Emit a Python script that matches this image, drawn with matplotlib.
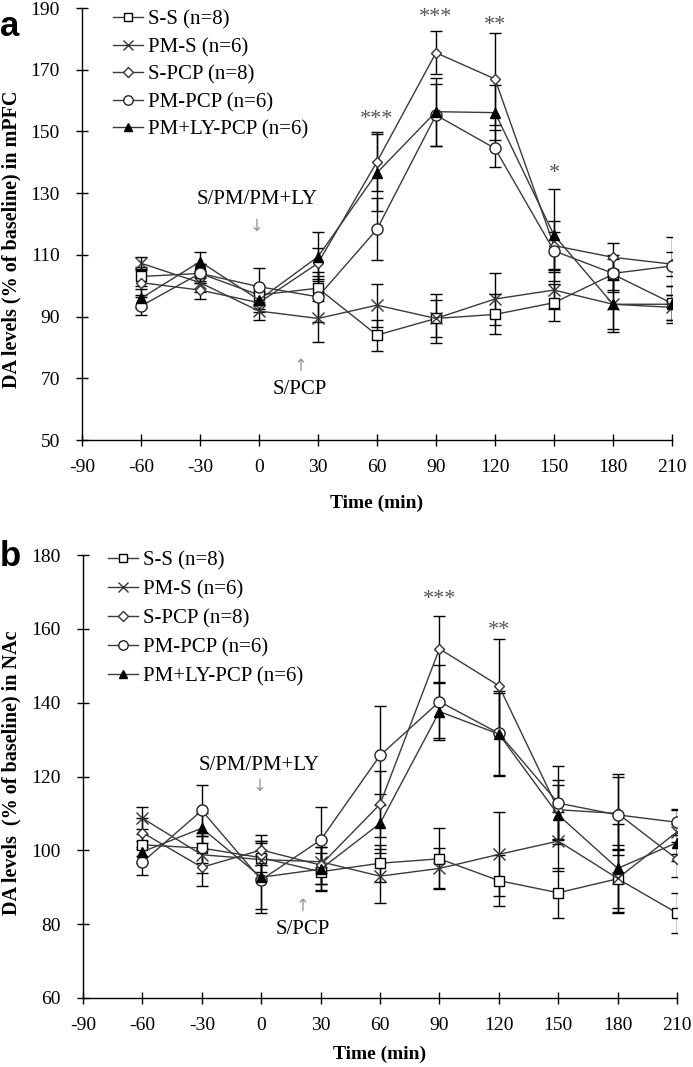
import matplotlib
matplotlib.use("Agg")
import matplotlib.pyplot as plt
from matplotlib.lines import Line2D

plt.rcParams['font.family'] = ['Liberation Serif', 'DejaVu Serif']
plt.rcParams['axes.unicode_minus'] = False

time = [-60, -30, 0, 30, 60, 90, 120, 150, 180, 210]
labels = ["S-S (n=8)", "PM-S (n=6)", "S-PCP (n=8)", "PM-PCP (n=6)", "PM+LY-PCP (n=6)"]

# Panel a: mPFC
a_ss = [103, 104, 97, 99.2, 84, 89.4, 90.7, 94.5, 103.7, 94.3]
a_pms = [107.3, 101, 91.8, 89.4, 93.7, 89.4, 95.7, 98.6, 94, 93]
a_spcp = [101, 98.6, 94.5, 107.3, 140.2, 175.5, 167, 113, 109.2, 107]
a_pmpcp = [93.4, 104, 99.7, 96.4, 118.3, 155.3, 144.5, 111.3, 104, 106.4]
a_lypcp = [95.9, 107.8, 95.4, 109.4, 136.6, 156.4, 156.1, 116.4, 94, 94]
a_ss_err = [3, 3, 3, 4, 5, 6, 6.5, 6, 5, 5.5]
a_pms_err = [2, 3, 3, 7.5, 7, 8, 8.5, 6, 9, 4]
a_spcp_err = [4, 3, 3, 5, 9.5, 7, 15, 8, 4.5, 4]
a_pmpcp_err = [3, 3, 6, 8, 10, 10, 6, 6, 6, 9.5]
a_lypcp_err = [3, 3, 3, 8, 12.5, 11, 9, 15, 8, 6]

# Panel b: NAc
b_ss = [101.5, 100.6, 98, 94.2, 96.5, 97.7, 91.8, 88.5, 92.3, 83]
b_pms = [108.7, 98.8, 97.5, 96.9, 93, 95.1, 98.9, 102.5, 92.4, 105]
b_spcp = [104.8, 95.4, 100.1, 96, 112.5, 154.6, 144.6, 111, 110, 97.6]
b_pmpcp = [96.8, 110.8, 92, 102.8, 125.7, 140.3, 131.7, 112.8, 109.6, 107.6]
b_lypcp = [99.6, 106, 92.7, 94.9, 107.3, 137.6, 131.5, 109.6, 95.1, 102.1]
b_ss_err = [3, 4, 4, 5, 5, 8.3, 7, 6.7, 8, 5.5]
b_pms_err = [3, 5, 5, 6, 7.3, 5.4, 11.4, 8, 9, 6]
b_spcp_err = [4, 5, 4, 5, 9, 9, 12.7, 8, 10, 4.7]
b_pmpcp_err = [3.5, 7, 8, 9, 13.5, 10, 11.5, 10, 11, 3.5]
b_lypcp_err = [3, 4, 9.7, 6, 8, 7.6, 11, 8, 12, 5]

a_stars_x = [60, 90, 120, 150]
a_stars_y = [156, 189, 186.5, 138.5]
a_stars = ["***", "***", "**", "*"]
b_stars_x = [90, 120]
b_stars_y = [169.7, 161.3]
b_stars = ["***", "**"]

styles = [
    dict(marker='s', ms=7.5, mfc='white', mec='black'),
    dict(marker='x', ms=8, mfc='none', mec='#333333', mew=1.0),
    dict(marker='D', ms=5.5, mfc='white', mec='#333333'),
    dict(marker='o', ms=8, mfc='white', mec='#222222'),
    dict(marker='^', ms=6.5, mfc='black', mec='black'),
]
line_col = '#3a3a3a'

fig = plt.figure(figsize=(6.93, 10.67), dpi=100)
ax_a = fig.add_axes([0.1183, 0.5876, 0.9697 - 0.1183, 0.9925 - 0.5876])
ax_b = fig.add_axes([0.1198, 0.0647, 0.977 - 0.1198, 0.4798 - 0.0647])


def draw(ax, series, errs, ylim, yticks, ylabel, ylabel_xy, xpad, stars_x, stars_y, stars,
         star_off, txt1_y, arr1_y, txt2_y, arr2_y, leg_anchor, leg_space):
    for vals, err, st in zip(series, errs, styles):
        ax.errorbar(time, vals, yerr=err, color=line_col, lw=1.0, ecolor='black',
                    elinewidth=1.0, capsize=4, capthick=1.0, **st)
    ax.set_xlim(-90, 210)
    ax.set_ylim(*ylim)
    ax.set_xticks(range(-90, 211, 30))
    ax.set_yticks(yticks)
    for s in ['top', 'right']:
        ax.spines[s].set_visible(False)
    for s in ['left', 'bottom']:
        ax.spines[s].set_linewidth(1.0)
    ax.tick_params(direction='inout', length=8, width=1.0, labelsize=14)
    ax.tick_params(axis='x', pad=10)
    ax.tick_params(axis='y', pad=12)
    ax.set_xlabel("Time (min)", fontsize=14, fontweight='bold', labelpad=xpad)
    ax.set_ylabel(ylabel, fontsize=14.5, fontweight='bold', va='center')
    ax.yaxis.set_label_coords(*ylabel_xy)
    for x, y, s in zip(stars_x, stars_y, stars):
        ax.text(x, y - star_off, s, ha='center', va='baseline', fontsize=16, color='#555555')
    ax.text(-1, txt1_y, "S/PM/PM+LY", ha='center', va='center', fontsize=15)
    ax.text(-1, arr1_y, "\u2193", ha='center', va='center', fontsize=12, color='#999999',
            family=['DejaVu Sans'])
    ax.text(21, txt2_y, "S/PCP", ha='center', va='center', fontsize=15)
    ax.text(21, arr2_y, "\u2191", ha='center', va='center', fontsize=12, color='#999999',
            family=['DejaVu Sans'])
    handles = [Line2D([], [], color=line_col, lw=1.0, **st) for st in styles]
    ax.legend(handles, labels, loc='upper left', bbox_to_anchor=leg_anchor, frameon=False,
              fontsize=15, handlelength=1.45, handletextpad=0.25, labelspacing=leg_space,
              borderaxespad=0, borderpad=0, markerscale=0.85)


draw(ax_a, [a_ss, a_pms, a_spcp, a_pmpcp, a_lypcp],
     [a_ss_err, a_pms_err, a_spcp_err, a_pmpcp_err, a_lypcp_err],
     (50, 190), range(50, 191, 20), "DA levels (% of baseline) in mPFC", (-0.120, 0.465), 13,
     a_stars_x, a_stars_y, a_stars, 3.6, 128, 119.5, 66.5, 74, (0.052, 0.995), 0.38)
draw(ax_b, [b_ss, b_pms, b_spcp, b_pmpcp, b_lypcp],
     [b_ss_err, b_pms_err, b_spcp_err, b_pmpcp_err, b_lypcp_err],
     (60, 180), range(60, 181, 20), "DA levels  (% of baseline) in NAc", (-0.121, 0.509), 8,
     b_stars_x, b_stars_y, b_stars, 3.0, 123, 117.5, 78.5, 85, (0.042, 1.010), 0.45)

fig.text(0.0, 1 - 26 / 1067, "a", fontsize=25, fontweight='bold', family=['Liberation Sans'],
         va='center', ha='left')
fig.text(0.0, 1 - 556 / 1067, "b", fontsize=25, fontweight='bold', family=['Liberation Sans'],
         va='center', ha='left')

fig.savefig("out.png", dpi=100)
